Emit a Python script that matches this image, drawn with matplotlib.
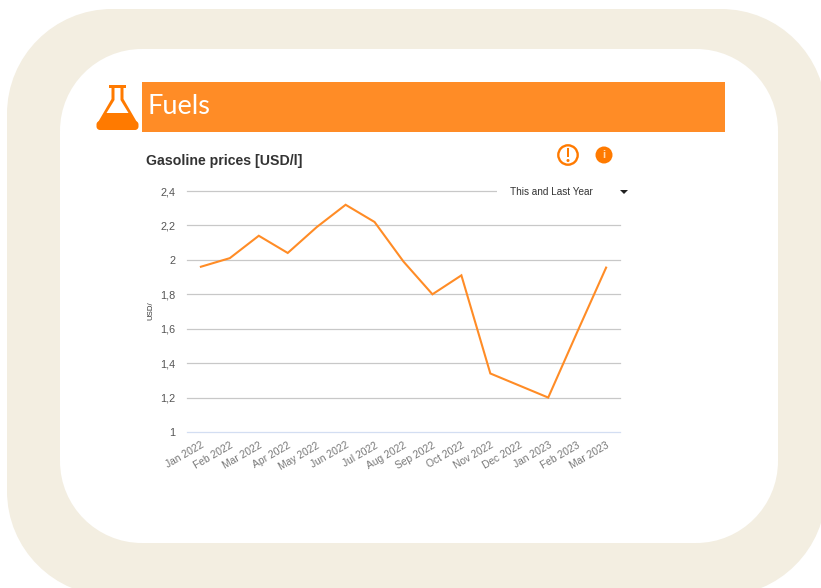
import matplotlib
matplotlib.use('Agg')
import matplotlib.pyplot as plt
from matplotlib.patches import PathPatch, Rectangle, Circle, Polygon
from matplotlib.path import Path

W, H = 821, 588

# chart data
months = ['Jan 2022', 'Feb 2022', 'Mar 2022', 'Apr 2022', 'May 2022', 'Jun 2022', 'Jul 2022', 'Aug 2022',
          'Sep 2022', 'Oct 2022', 'Nov 2022', 'Dec 2022', 'Jan 2023', 'Feb 2023', 'Mar 2023']
prices = [1.96, 2.01, 2.14, 2.04, 2.19, 2.32, 2.22, 1.99, 1.80, 1.91, 1.34, 1.27, 1.20, 1.58, 1.955]
y_ticks = [1, 1.2, 1.4, 1.6, 1.8, 2, 2.2, 2.4]
y_labels = ['1', '1,2', '1,4', '1,6', '1,8', '2', '2,2', '2,4']

ORANGE = '#ff8c26'
DARK_ORANGE = '#ff7a00'
BEIGE = '#f3eee1'

plt.rcParams['font.family'] = ['Liberation Sans', 'DejaVu Sans']

fig = plt.figure(figsize=(W / 100, H / 100), dpi=100, facecolor='white')

# background layer in pixel coordinates
bg = fig.add_axes([0, 0, 1, 1])
bg.set_xlim(0, W)
bg.set_ylim(H, 0)
bg.axis('off')


def rounded(x, y, w, h, r, color):
    # circular corners, FancyBboxPatch gives squarer ones
    k = r * 0.448
    x2, y2 = x + w, y + h
    verts = [(x + r, y), (x2 - r, y),
             (x2 - k, y), (x2, y + k), (x2, y + r), (x2, y2 - r),
             (x2, y2 - k), (x2 - k, y2), (x2 - r, y2), (x + r, y2),
             (x + k, y2), (x, y2 - k), (x, y2 - r), (x, y + r),
             (x, y + k), (x + k, y), (x + r, y)]
    codes = [Path.MOVETO, Path.LINETO,
             Path.CURVE4, Path.CURVE4, Path.CURVE4, Path.LINETO,
             Path.CURVE4, Path.CURVE4, Path.CURVE4, Path.LINETO,
             Path.CURVE4, Path.CURVE4, Path.CURVE4, Path.LINETO,
             Path.CURVE4, Path.CURVE4, Path.CURVE4]
    bg.add_patch(PathPatch(Path(verts, codes), facecolor=color, edgecolor='none'))


rounded(7, 9, 819, 587, 105, BEIGE)
rounded(60, 49, 718, 494, 82, 'white')

# banner
bg.add_patch(Rectangle((142, 82), 583, 50, facecolor=ORANGE, edgecolor='none'))
bg.text(148, 106, 'Fuels', color='white', fontsize=19.5, family='Lato', va='center', ha='left')

# flask icon
bg.add_patch(Rectangle((109, 85.2), 17, 3, facecolor=DARK_ORANGE, edgecolor='none'))
rounded(96.5, 121, 42, 9, 3.5, DARK_ORANGE)
bg.add_patch(Polygon([(111.5, 88), (123.5, 88), (123.5, 99), (138, 124), (97, 124), (111.5, 99)],
                     closed=True, facecolor=DARK_ORANGE, edgecolor='none'))
bg.add_patch(Polygon([(114.5, 88), (120.5, 88), (120.5, 100), (128.5, 113), (106.5, 113), (114.5, 100)],
                     closed=True, facecolor='white', edgecolor='none'))

bg.text(146, 161.5, 'Gasoline prices [USD/l]', color='#333333', fontsize=10.2, fontweight='bold', va='center', ha='left')

# chart
left, right, top, bottom = 187, 620, 191, 432
ax = fig.add_axes([left / W, 1 - bottom / H, (right - left) / W, (bottom - top) / H])
ax.patch.set_alpha(0)
x = list(range(len(months)))
ax.set_xlim(-0.48, 14.48)
ax.set_ylim(1, 2.4)
ax.set_yticks(y_ticks)
ax.set_yticklabels(y_labels, fontsize=7.8, color='#555555')
ax.set_xticks(x)
ax.set_xticklabels(months, fontsize=7.4, color='#777777', rotation=30, ha='right', rotation_mode='anchor')
ax.tick_params(length=0)
ax.tick_params(axis='y', pad=8.5)
ax.tick_params(axis='x', pad=6)
for s in ax.spines.values():
    s.set_visible(False)
ax.grid(axis='y', color='#c8c8c8', linewidth=0.9, clip_on=False)
ax.set_axisbelow(True)
ax.get_ygridlines()[0].set_color('#d3def2')
ax.plot(x, prices, color=ORANGE, linewidth=1.5, solid_joinstyle='miter', clip_on=False)

# overlay layer for the widgets on top of the chart
top_layer = fig.add_axes([0, 0, 1, 1])
top_layer.set_xlim(0, W)
top_layer.set_ylim(H, 0)
top_layer.axis('off')
top_layer.patch.set_alpha(0)

top_layer.text(151, 311, 'USD/', rotation=90, fontsize=5.6, color='#333333', va='center', ha='center')

# dropdown
top_layer.add_patch(Rectangle((497, 184), 135, 14, facecolor='white', edgecolor='none'))
top_layer.text(510, 192, 'This and Last Year', fontsize=7.2, color='#333333', va='center', ha='left')
top_layer.add_patch(Polygon([(620, 190), (628, 190), (624, 194)], closed=True, facecolor='#222222', edgecolor='none'))

# alert and info icons
top_layer.add_patch(Circle((568, 155), 9.7, facecolor='white', edgecolor=DARK_ORANGE, linewidth=1.7))
top_layer.add_patch(Rectangle((566.7, 147.5), 2.6, 9, facecolor=DARK_ORANGE, edgecolor='none'))
top_layer.add_patch(Circle((568, 160.5), 1.5, facecolor=DARK_ORANGE, edgecolor='none'))
top_layer.add_patch(Circle((604, 155), 8.5, facecolor=DARK_ORANGE, edgecolor='none'))
top_layer.text(604, 155.5, 'i', fontsize=8, color='#ffd9b0', fontweight='bold', va='center', ha='center')

fig.savefig('out.png', dpi=100)
